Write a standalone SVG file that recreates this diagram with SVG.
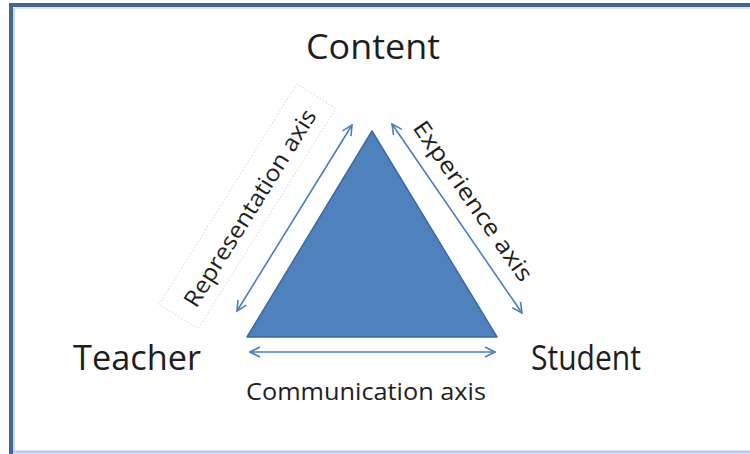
<svg xmlns="http://www.w3.org/2000/svg" width="750" height="454" viewBox="0 0 750 454">
  <defs>
    <style>
      .lbl { font-family: "Open Sans", "Liberation Sans", sans-serif; fill: #1e1e1e; }
      .big { font-size: 35px; }
      .axis { font-size: 23px; }
      .conn { stroke: #4a7ebb; stroke-width: 1.6; fill: none; }
    </style>
    <marker id="chev" viewBox="0 0 12 12" refX="11" refY="6" markerWidth="12" markerHeight="12" markerUnits="userSpaceOnUse" orient="auto-start-reverse">
      <path d="M1,1 L11,6 L1,11" fill="none" stroke="#4a7ebb" stroke-width="1.6"/>
    </marker>
  </defs>

  <!-- page background and frame -->
  <rect x="0" y="0" width="750" height="454" fill="#ffffff"/>
  <line x1="11" y1="5" x2="750" y2="5" stroke="#46668f" stroke-width="4"/>
  <line x1="11" y1="3" x2="11" y2="454" stroke="#46668f" stroke-width="4"/>
  <line x1="14" y1="8" x2="750" y2="8" stroke="#dce6f2" stroke-width="2"/>
  <line x1="14" y1="8" x2="14" y2="451" stroke="#c6d6ec" stroke-width="2"/>
  <line x1="13" y1="452" x2="750" y2="452" stroke="#b9cde5" stroke-width="3"/>

  <!-- central triangle -->
  <g id="triangle">
    <polygon points="372,131 497,337 247,337" fill="#4f81bd" stroke="#3f6a9c" stroke-width="1.5" stroke-linejoin="round"/>
  </g>

  <!-- corner labels -->
  <g id="content">
    <text class="lbl big" x="373" y="59" text-anchor="middle" textLength="134" lengthAdjust="spacingAndGlyphs">Content</text>
  </g>
  <g id="teacher">
    <text class="lbl big" x="137" y="370" text-anchor="middle" textLength="128" lengthAdjust="spacingAndGlyphs">Teacher</text>
  </g>
  <g id="student">
    <text class="lbl big" x="586" y="370" text-anchor="middle" textLength="110" lengthAdjust="spacingAndGlyphs">Student</text>
  </g>

  <!-- axes -->
  <g id="connectors">
    <line class="conn" x1="237" y1="311" x2="352" y2="125" marker-start="url(#chev)" marker-end="url(#chev)"/>
    <line class="conn" x1="392" y1="124" x2="522" y2="313" marker-start="url(#chev)" marker-end="url(#chev)"/>
    <line class="conn" x1="250" y1="352" x2="495" y2="352" marker-start="url(#chev)" marker-end="url(#chev)"/>
  </g>

  <!-- axis labels -->
  <g id="representation-axis" transform="translate(250,208) rotate(-58)">
    <rect x="-130" y="-26" width="260" height="46" fill="none" stroke="#dadada" stroke-width="1" stroke-dasharray="1.5,2"/>
    <text class="lbl axis" x="0" y="8" text-anchor="middle" textLength="228" lengthAdjust="spacingAndGlyphs">Representation axis</text>
  </g>
  <g id="experience-axis" transform="translate(473,201) rotate(55)">
    <text class="lbl axis" x="0" y="8" text-anchor="middle" textLength="190" lengthAdjust="spacingAndGlyphs">Experience axis</text>
  </g>
  <g id="communication-axis">
    <text class="lbl axis" x="366" y="400" text-anchor="middle" textLength="240" lengthAdjust="spacingAndGlyphs">Communication axis</text>
  </g>
</svg>
